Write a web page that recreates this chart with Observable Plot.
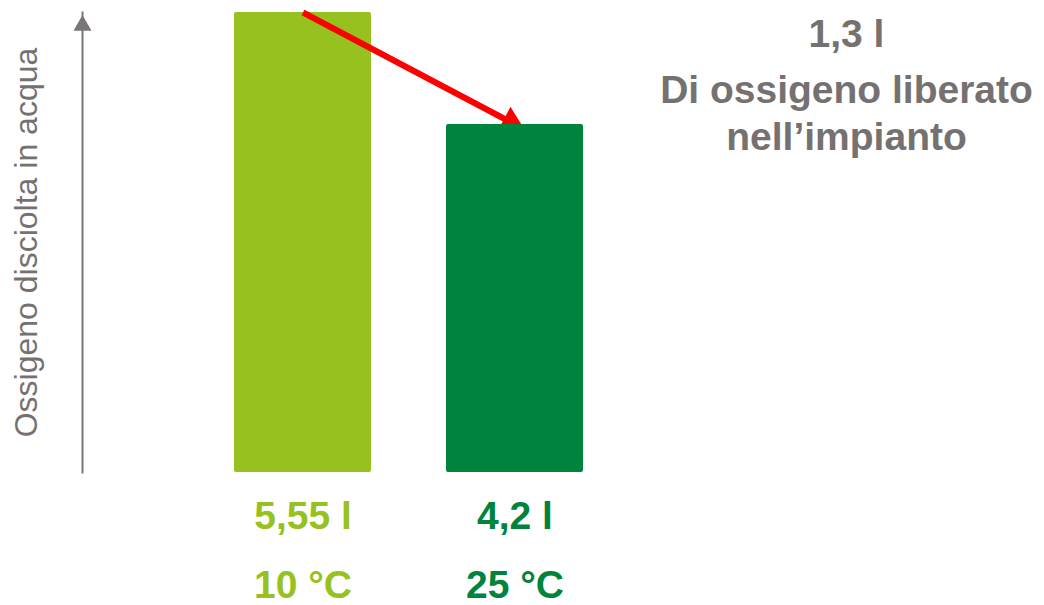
<!DOCTYPE html>
<html>
<head>
<meta charset="utf-8">
<script src="https://cdn.jsdelivr.net/npm/d3@7"></script>
<script src="https://cdn.jsdelivr.net/npm/@observablehq/plot@0.6"></script>
<style>
  html, body { margin: 0; padding: 0; background: #fff; }
  #chart { width: 1044px; height: 605px; }
</style>
</head>
<body>
<div id="chart"></div>
<script>
// Data
const temperatures = ["10 °C", "25 °C"];
const oxygenLitres = [5.55, 4.2];
const valueLabels = ["5,55 l", "4,2 l"];
const releasedLabel = "1,3 l";
const releasedText = ["Di ossigeno liberato", "nell’impianto"];
const yAxisLabel = "Ossigeno disciolta in acqua";

const barColors = ["#97c11f", "#00843d"];
const gray = "#767171";
const font = "'Liberation Sans', Arial, Helvetica, sans-serif";

const data = temperatures.map((t, i) => ({temp: t, value: oxygenLitres[i], label: valueLabels[i]}));
const arrowData = [{from: temperatures[0], to: temperatures[1], v1: oxygenLitres[0], v2: oxygenLitres[1]}];

const chart = Plot.plot({
  width: 1044,
  height: 605,
  marginTop: 12,
  marginBottom: 133,
  marginLeft: 82,
  marginRight: 0,
  style: {fontFamily: font, background: "white"},
  x: {domain: temperatures, range: [233, 583], paddingInner: 0.356, paddingOuter: 0, axis: null},
  y: {domain: [0, 5.55], axis: null},
  color: {domain: temperatures, range: barColors},
  marks: [
    // axis line with arrowhead
    Plot.frame({anchor: "left", stroke: "#7a7676", strokeWidth: 2}),
    Plot.dot([0], {frameAnchor: "top-left", symbol: "triangle", r: 6.7, fill: "#7a7676", stroke: null, dy: 13}),
    Plot.text([yAxisLabel], {frameAnchor: "left", rotate: -90, dx: -56, textAnchor: "middle", lineAnchor: "middle", fontSize: 32, fill: gray, fontWeight: 300}),
    Plot.barY(data.slice(0, 1), {x: "temp", y: "value", fill: "temp", rx: 2}),
    // red arrow: shaft + filled head (partly hidden behind the second bar)
    Plot.arrow(arrowData, {x1: "from", y1: "v1", x2: "to", y2: "v2", stroke: "#ff0000", strokeWidth: 6, headLength: 0, strokeLinecap: "butt"}),
    Plot.dot(arrowData, {x: "to", y: "v2", symbol: "triangle", r: 10, rotate: 118, fill: "#ff0000", stroke: null, dx: -4, dy: -2}),
    Plot.barY(data.slice(1), {x: "temp", y: "value", fill: "temp", rx: 2}),
    Plot.text(data, {x: "temp", text: "label", frameAnchor: "bottom", lineAnchor: "middle", dy: 44, fill: "temp", fontSize: 39, fontWeight: "bold"}),
    Plot.text(data, {x: "temp", text: "temp", frameAnchor: "bottom", lineAnchor: "middle", dy: 113, fill: "temp", fontSize: 39, fontWeight: "bold"}),
    Plot.text([releasedLabel], {frameAnchor: "top-right", lineAnchor: "middle", dx: -198, dy: 22, textAnchor: "middle", fill: gray, fontSize: 39, fontWeight: "bold"}),
    Plot.text([releasedText.join("\n")], {frameAnchor: "top-right", dx: -198, dy: 57, textAnchor: "middle", lineAnchor: "top", lineHeight: 1.2, fill: gray, fontSize: 39, fontWeight: "bold"})
  ]
});
document.getElementById("chart").appendChild(chart);
</script>
</body>
</html>
